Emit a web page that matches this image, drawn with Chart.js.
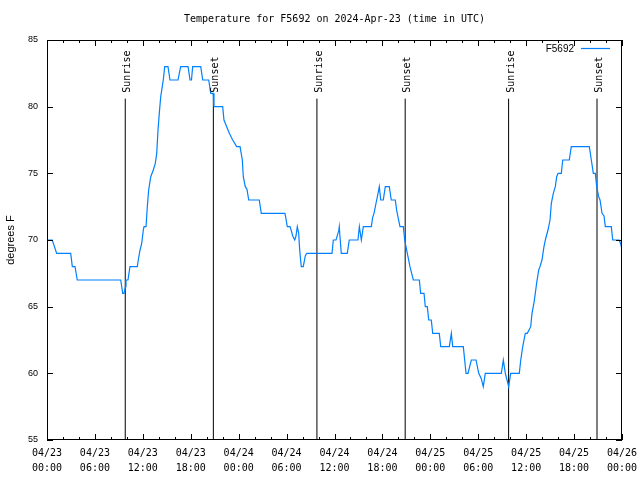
<!doctype html>
<html><head><meta charset="utf-8">
<title>Temperature for F5692</title>
<script src="https://cdn.jsdelivr.net/npm/chart.js"></script>
<style>
  html, body { margin: 0; padding: 0; background: #fff; }
  canvas { display: block; }
</style>
</head><body>
<canvas id="tempChart" width="640" height="480"></canvas>
<script>
// hours since 2024-04-23 00:00 UTC, and temperature in degrees F
const hours = [
  0, 0.66, 1.21, 2.97, 3.17, 3.51, 3.79, 9.23, 9.48, 9.64, 9.83, 9.89, 10.14, 10.39,
  11.31, 11.43, 11.65, 11.86, 12.06, 12.15, 12.40, 12.56, 12.73, 12.99, 13.31, 13.56,
  13.74, 13.90, 14.06, 14.24, 14.56, 14.74, 15.15, 15.40, 16.40, 16.74, 17.66, 17.91,
  18.09, 18.24, 19.25, 19.50, 20.25, 20.50, 20.79, 20.91, 22.00, 22.16, 22.50, 22.83,
  23.25, 23.75, 24.17, 24.46, 24.58, 24.83, 25.04, 25.26, 26.58, 26.83, 29.80, 30.09,
  30.43, 30.59, 30.77, 31.02, 31.18, 31.34, 31.52, 31.59, 31.68, 31.84, 32.09, 32.34,
  32.52, 35.69, 35.85, 36.19, 36.53, 36.60, 36.69, 36.85, 37.60, 37.85, 38.94, 39.11,
  39.36, 39.61, 40.61, 40.78, 40.95, 41.28, 41.45, 41.61, 41.79, 42.11, 42.36, 42.86,
  43.11, 43.61, 43.79, 43.86, 44.20, 44.62, 44.79, 45.12, 45.45, 45.87, 46.62, 46.79,
  47.21, 47.37, 47.62, 47.80, 48.12, 48.30, 49.12, 49.30, 50.38, 50.63, 50.80, 52.13,
  52.30, 52.47, 52.72, 53.13, 53.72, 54.06, 54.38, 54.63, 54.88, 56.89, 57.14, 57.39,
  57.81, 58.06, 59.14, 59.32, 59.57, 59.89, 60.14, 60.57, 60.73, 60.98, 61.14, 61.32,
  61.57, 61.73, 61.98, 62.23, 62.40, 62.73, 62.99, 63.15, 63.40, 63.65, 63.82, 63.99,
  64.40, 64.58, 65.40, 65.65, 67.91, 68.16, 68.41, 68.66, 68.83, 69.08, 69.25, 69.50,
  69.75, 69.91, 70.66, 70.84, 71.66, 71.84, 72.0
];
const tempF = [
  70, 70, 69, 69, 68, 68, 67, 67, 66, 66, 66.5, 67, 67, 68,
  68, 68.5, 69.25, 69.75, 70.75, 71, 71, 72.5, 73.75, 74.75, 75.25, 75.75,
  76.5, 78.25, 79.5, 80.75, 82, 83, 83, 82, 82, 83, 83, 82,
  82, 83, 83, 82, 82, 81, 81, 80, 80, 79, 78.5, 78,
  77.5, 77, 77, 76, 74.75, 74, 73.8, 73, 73, 72, 72, 71,
  71, 70.7, 70.3, 70, 70.3, 71, 70.5, 69.7, 69, 68, 68, 68.8,
  69, 69, 70, 70, 70.7, 71, 70.2, 69, 69, 70, 70, 71,
  70, 71, 71, 71.7, 72, 73, 73.5, 74, 73, 73, 74, 74,
  73, 73, 72.2, 72, 71, 71, 70, 69, 68, 67, 67, 66,
  66, 65, 65, 64, 64, 63, 63, 62, 62, 63, 62, 62,
  61, 60, 60, 61, 61, 60, 59.6, 59, 60, 60, 61, 60,
  59, 60, 60, 61, 62, 63, 63, 63.5, 64.5, 65.3, 66, 66.8,
  67.75, 68, 68.5, 69.5, 70, 70.75, 71.5, 72.75, 73.5, 74, 74.75, 75,
  75, 76, 76, 77, 77, 76, 75, 75, 74, 73.25, 73, 72,
  71.8, 71, 71, 70, 70, 69.7, 69.3
];
const seriesName = 'F5692';

// sunrise / sunset markers (hours since start)
const sunTimes = [9.8, 20.83, 33.8, 44.85, 57.8, 68.87];
const sunLabels = ['Sunrise', 'Sunset', 'Sunrise', 'Sunset', 'Sunrise', 'Sunset'];
const sunLineTop = 80.6;

// x tick labels, one per 6 hours
const tickDays = ['04/23','04/23','04/23','04/23','04/24','04/24','04/24','04/24','04/25','04/25','04/25','04/25','04/26'];
const tickTimes = ['00:00','06:00','12:00','18:00','00:00','06:00','12:00','18:00','00:00','06:00','12:00','18:00','00:00'];

const lineBlue = '#0080ff';
const mono = "'DejaVu Sans Mono', monospace";
const sans = "'Liberation Sans', Arial, sans-serif";

const sunSets = sunTimes.map((t, i) => ({
  label: sunLabels[i],
  data: [{ x: t, y: 55 }, { x: t, y: sunLineTop }],
  borderColor: '#000',
  borderWidth: 1,
  pointRadius: 0
}));

// frame, inward tick marks, title, legend, sun labels
const gnuFrame = {
  id: 'gnuFrame',
  afterDatasetsDraw(chart) {
    const { ctx, chartArea: a, scales: { x, y } } = chart;
    ctx.save();
    ctx.strokeStyle = '#000';
    ctx.lineWidth = 1;
    ctx.strokeRect(Math.round(a.left) + 0.5, Math.round(a.top) + 0.5,
      Math.round(a.right - a.left) - 1, Math.round(a.bottom - a.top) - 1);
    ctx.beginPath();
    for (let v = 0; v <= 72; v += 2) {
      const px = Math.round(x.getPixelForValue(v)) + 0.5;
      const len = v % 6 === 0 ? 6 : 3;
      ctx.moveTo(px, a.bottom); ctx.lineTo(px, a.bottom - len);
      ctx.moveTo(px, a.top); ctx.lineTo(px, a.top + len);
    }
    for (let v = 55; v <= 85; v += 5) {
      const py = Math.round(y.getPixelForValue(v)) + 0.5;
      ctx.moveTo(a.left, py); ctx.lineTo(a.left + 6, py);
      ctx.moveTo(a.right, py); ctx.lineTo(a.right - 6, py);
    }
    ctx.stroke();

    // sunrise / sunset labels, rotated
    ctx.fillStyle = '#000';
    ctx.font = '10px ' + mono;
    ctx.textAlign = 'left';
    ctx.textBaseline = 'alphabetic';
    sunTimes.forEach((t, i) => {
      const px = x.getPixelForValue(t);
      ctx.save();
      ctx.translate(px + 5, y.getPixelForValue(sunLineTop) - 6);
      ctx.rotate(-Math.PI / 2);
      ctx.fillText(sunLabels[i], 0, 0);
      ctx.restore();
    });

    // legend
    ctx.font = '10px ' + sans;
    ctx.textAlign = 'right';
    ctx.textBaseline = 'middle';
    ctx.fillText(seriesName, a.right - 48, a.top + 9);
    ctx.strokeStyle = lineBlue;
    ctx.lineWidth = 1.2;
    ctx.beginPath();
    ctx.moveTo(a.right - 41, a.top + 8.5);
    ctx.lineTo(a.right - 12, a.top + 8.5);
    ctx.stroke();

    // title
    ctx.fillStyle = '#000';
    ctx.font = '10px ' + mono;
    ctx.textAlign = 'center';
    ctx.fillText('Temperature for F5692 on 2024-Apr-23 (time in UTC)', (a.left + a.right) / 2, 19);
    ctx.restore();
  }
};

new Chart(document.getElementById('tempChart'), {
  type: 'line',
  data: {
    datasets: [{
      label: seriesName,
      data: hours.map((h, i) => ({ x: h, y: tempF[i] })),
      borderColor: lineBlue,
      borderWidth: 1.2,
      pointRadius: 0,
      tension: 0
    }, ...sunSets]
  },
  options: {
    responsive: false,
    animation: false,
    devicePixelRatio: 1,
    layout: { padding: { top: 40, right: 18, left: 0, bottom: 0 } },
    plugins: { legend: { display: false }, tooltip: { enabled: false } },
    scales: {
      x: {
        type: 'linear',
        min: 0, max: 72,
        grid: { display: false, drawTicks: false },
        border: { display: false },
        afterFit(s) { s.height = 40; s.paddingLeft = 0; s.paddingRight = 0; },
        afterBuildTicks(s) { s.ticks = tickTimes.map((_, i) => ({ value: i * 6 })); },
        ticks: {
          autoSkip: false,
          maxRotation: 0,
          padding: 6,
          color: '#000',
          font: { family: mono, size: 10, lineHeight: 1.5 },
          callback: (v) => [tickDays[v / 6], tickTimes[v / 6]]
        }
      },
      y: {
        min: 55, max: 85,
        grid: { display: false, drawTicks: false },
        border: { display: false },
        afterFit(s) { s.width = 47; s.paddingTop = 0; s.paddingBottom = 0; },
        ticks: {
          stepSize: 5,
          padding: 9,
          color: '#000',
          font: { family: sans, size: 9 }
        },
        title: {
          display: true,
          text: 'degrees F',
          color: '#000',
          font: { family: sans, size: 11 },
          padding: { top: 4, bottom: 0 }
        }
      }
    }
  },
  plugins: [gnuFrame]
});
</script>
</body></html>
